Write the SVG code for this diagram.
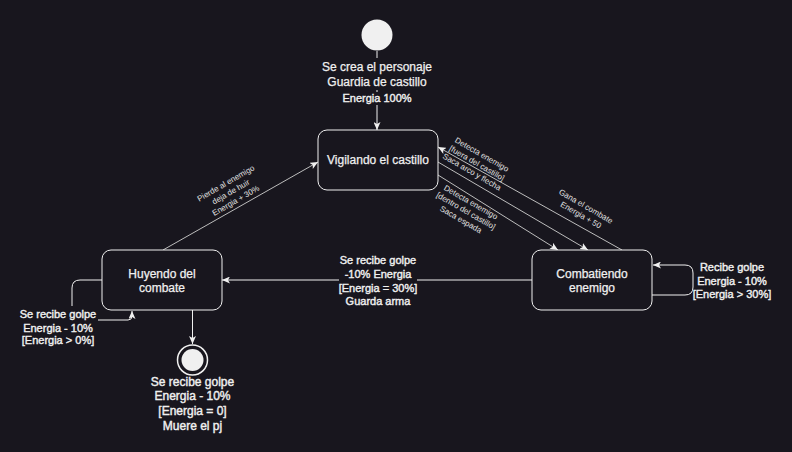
<svg xmlns="http://www.w3.org/2000/svg" width="792" height="452" viewBox="0 0 792 452">
<defs>
<style>
.bg{fill:#18161e}
.node{fill:#18161e;stroke:#f0f0f0;stroke-width:1}
.edge{fill:none;stroke:#f0f0f0;stroke-width:1;marker-end:url(#arr)}
.diag{stroke:#bdbdbd}
text{font-family:"Liberation Sans",Arial,Helvetica,sans-serif;fill:#f0f0f0;text-anchor:middle}
.t12{font-size:12px;stroke:#f0f0f0;stroke-width:0.25}
.b12{font-size:12px;stroke:#f0f0f0;stroke-width:0.4}
.b11{font-size:11px;stroke:#f0f0f0;stroke-width:0.4}
.t8{font-size:8px;fill:#e0e0e0}
.lbg{fill:#18161e}
</style>
<marker id="arr" viewBox="0 0 8 7" refX="8" refY="3.5" markerWidth="8" markerHeight="7" markerUnits="userSpaceOnUse" orient="auto">
<path d="M0,0 L8,3.5 L0,7 L2,3.5 Z" fill="#f0f0f0"/>
</marker>
</defs>
<rect class="bg" x="0" y="0" width="792" height="452"/>

<g id="connectors">
  <path class="edge" d="M377,51 V130"/>
  <path class="edge diag" d="M438,162 L588,250"/>
  <path class="edge diag" d="M438,175 L558,250"/>
  <path class="edge diag" d="M622,250 L438,147"/>
  <path class="edge diag" d="M163,250 L318,162"/>
  <path class="edge" d="M532,280 H222"/>
  <path class="edge" d="M652,295 H685 Q693,295 693,287 V273 Q693,265 685,265 H653"/>
  <path class="edge" d="M102,280 H80 Q72,280 72,288 V320 H128 Q132,320 132,316 V311"/>
  <path class="edge" d="M192.5,310 V344"/>

  <g id="label-start">
    <rect class="lbg" x="322" y="58" width="110" height="32"/>
    <text class="t12" x="377" y="71">Se crea el personaje</text>
    <text class="t12" x="377" y="86">Guardia de castillo</text>
    <rect class="lbg" x="342" y="92" width="70" height="13"/>
    <text class="b11" x="377" y="102">Energia 100%</text>
  </g>
  <g id="label-fuera" transform="translate(477,163) rotate(30)">
    <text class="t8" x="0" y="-7.1">Detecta enemigo</text>
    <text class="t8" x="0" y="2.9">[fuera del castillo]</text>
    <text class="t8" x="0" y="12.9">Saca arco y flecha</text>
  </g>
  <g id="label-dentro" transform="translate(466,210.7) rotate(30)">
    <text class="t8" x="0" y="-7.1">Detecta enemigo</text>
    <text class="t8" x="0" y="2.9">[dentro del castillo]</text>
    <text class="t8" x="0" y="12.9">Saca espada</text>
  </g>
  <g id="label-gana" transform="translate(583.5,210.5) rotate(30)">
    <text class="t8" x="0" y="-2.1">Gana el combate</text>
    <text class="t8" x="0" y="7.9">Energia + 50</text>
  </g>
  <g id="label-pierde" transform="translate(230.7,191.7) rotate(-30)">
    <text class="t8" x="0" y="-7.1">Pierde al enemigo</text>
    <text class="t8" x="0" y="2.9">deja de huir</text>
    <text class="t8" x="0" y="12.9">Energia + 30%</text>
  </g>
  <g id="label-huir">
    <rect class="lbg" x="339" y="252" width="78" height="56"/>
    <text class="b11" x="378" y="264">Se recibe golpe</text>
    <text class="b11" x="378" y="278">-10% Energia</text>
    <text class="b11" x="378" y="291.5">[Energia = 30%]</text>
    <text class="b11" x="378" y="305">Guarda arma</text>
  </g>
  <g id="label-loop-combate">
    <rect class="lbg" x="694" y="258" width="78" height="42"/>
    <text class="b11" x="732" y="270.7">Recibe golpe</text>
    <text class="b11" x="732" y="284.7">Energia - 10%</text>
    <text class="b11" x="732" y="298">[Energia &gt; 30%]</text>
  </g>
  <g id="label-loop-huyendo">
    <rect class="lbg" x="18" y="306" width="80" height="42"/>
    <text class="b11" x="58" y="318">Se recibe golpe</text>
    <text class="b11" x="58" y="331.7">Energia - 10%</text>
    <text class="b11" x="58" y="344">[Energia &gt; 0%]</text>
  </g>
</g>

<g id="start">
  <circle cx="377" cy="35" r="15.5" fill="#f0f0f0"/>
</g>
<g id="vigilando">
  <rect class="node" x="318" y="130" width="120" height="60" rx="9"/>
  <text class="t12" x="378" y="164.3">Vigilando el castillo</text>
</g>
<g id="combatiendo">
  <rect class="node" x="532" y="250" width="120" height="60" rx="9"/>
  <text class="t12" x="592" y="277.6">Combatiendo</text>
  <text class="t12" x="592" y="292">enemigo</text>
</g>
<g id="huyendo">
  <rect class="node" x="102" y="250" width="120" height="60" rx="9"/>
  <text class="t12" x="162" y="277.6">Huyendo del</text>
  <text class="t12" x="162" y="292">combate</text>
</g>
<g id="end">
  <circle cx="192.5" cy="360" r="15" fill="none" stroke="#f0f0f0" stroke-width="1.5"/>
  <circle cx="192.5" cy="360" r="11" fill="#f0f0f0"/>
  <text class="b12" x="192.5" y="386">Se recibe golpe</text>
  <text class="b12" x="192.5" y="400.3">Energia - 10%</text>
  <text class="b12" x="192.5" y="415">[Energia = 0]</text>
  <text class="b12" x="192.5" y="430">Muere el pj</text>
</g>
</svg>
